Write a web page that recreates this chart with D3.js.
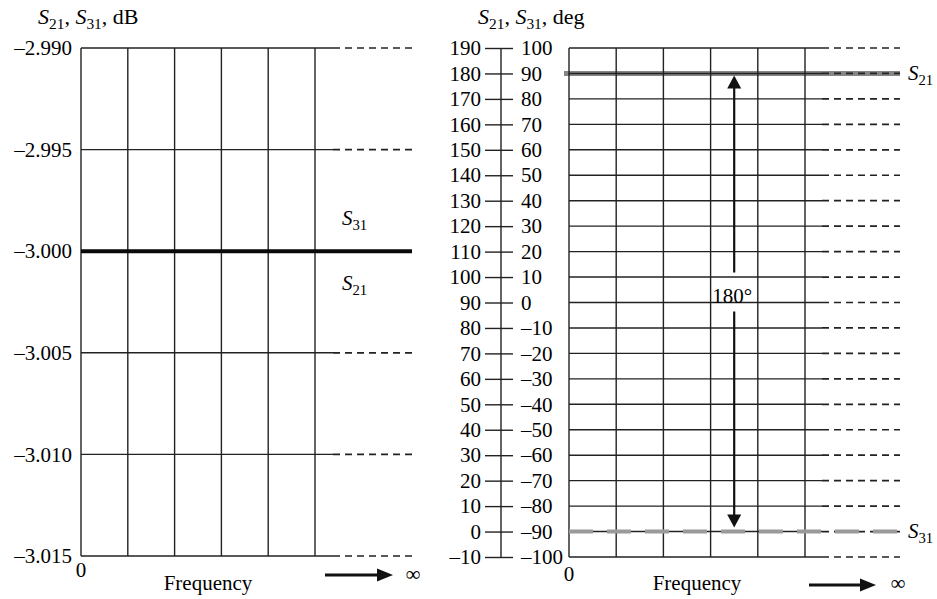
<!DOCTYPE html>
<html>
<head>
<meta charset="utf-8">
<script src="https://cdn.jsdelivr.net/npm/d3@7"></script>
<style>
  body { margin: 0; background: #fff; }
  svg text { font-family: "Liberation Serif", "Times New Roman", serif; fill: #000; }
</style>
</head>
<body>
<svg id="chart" width="937" height="599" font-family="Liberation Serif, serif"></svg>
<script>
// Magnitude panel (dB)
const dbTicks = [-2.990, -2.995, -3.000, -3.005, -3.010, -3.015];
const s21dB = -3.000;
const s31dB = -3.000;

// Frequency grid divisions (0 … towards infinity)
const freqDivisions = [0, 1, 2, 3, 4, 5];

// Phase panel (deg): inner scale and the offset outer scale
const phaseTicks = [100, 90, 80, 70, 60, 50, 40, 30, 20, 10, 0, -10, -20, -30, -40, -50, -60, -70, -80, -90, -100];
const phaseOffset = 90;
const s21Deg = 90;
const s31Deg = -90;
const phaseDiffLabel = "180°";

const svg = d3.select("#chart");
const dash = s => s.replace(/[-\u2212]/g, "\u2013");
const gridColor = "#222";
const gridWidth = 1.4;
const FS = 21;
const SERIF = "Liberation Serif, Times New Roman, serif";

function subLabel(g, x, y, parts, size) {
  // parts: [text, isSubscript, isItalic]
  const fs = size || FS;
  const t = g.append("text").attr("x", x).attr("y", y)
    .attr("font-size", fs).attr("font-family", SERIF);
  parts.forEach(([s, sub, it], i) => {
    const ts = t.append("tspan").text(s);
    if (it) ts.attr("font-style", "italic");
    if (sub) ts.attr("font-size", fs * 0.7).attr("dy", 5);
    else if (i > 0 && parts[i - 1][1]) ts.attr("dy", -5);
  });
  return t;
}

function sLabel(g, x, y, idx) {
  return subLabel(g, x, y, [["S", false, true], [idx, true, false]]);
}

function plainText(g, x, y, s, anchor) {
  return g.append("text").attr("x", x).attr("y", y)
    .attr("text-anchor", anchor || "middle")
    .attr("font-size", FS).attr("font-family", SERIF).text(s);
}

function freqArrow(g, x1, x2, y) {
  g.append("line").attr("x1", x1).attr("x2", x2 - 14).attr("y1", y).attr("y2", y)
    .attr("stroke", "#111").attr("stroke-width", 3);
  g.append("path")
    .attr("d", `M${x2},${y} L${x2 - 16},${y - 6.5} L${x2 - 16},${y + 6.5} Z`)
    .attr("fill", "#111");
}

function styleAxis(axG) {
  axG.attr("font-family", SERIF).attr("font-size", FS);
  axG.select(".domain").remove();
  axG.selectAll("text").attr("font-size", FS).attr("font-family", SERIF).attr("fill", "#000");
}

// ---------- Left panel: magnitude ----------
const xL = d3.scaleLinear().domain([0, 5]).range([81, 315]);
const yL = d3.scaleLinear().domain([-3.015, -2.990]).range([556, 48]);
const gL = svg.append("g");
const solidExt = 18, dashExt = 97;

gL.selectAll(".hgrid").data(dbTicks).join("line")
  .attr("x1", xL(0)).attr("x2", xL(5) + solidExt)
  .attr("y1", d => yL(d)).attr("y2", d => yL(d))
  .attr("stroke", gridColor).attr("stroke-width", gridWidth);
gL.selectAll(".hdash").data(dbTicks).join("line")
  .attr("x1", xL(5) + solidExt).attr("x2", xL(5) + dashExt)
  .attr("y1", d => yL(d)).attr("y2", d => yL(d))
  .attr("stroke", gridColor).attr("stroke-width", 1.7)
  .attr("stroke-dasharray", "7,5");
gL.selectAll(".vgrid").data(freqDivisions).join("line")
  .attr("x1", d => xL(d)).attr("x2", d => xL(d))
  .attr("y1", yL(-2.990)).attr("y2", yL(-3.015))
  .attr("stroke", gridColor).attr("stroke-width", gridWidth);

// S21 and S31 magnitudes coincide
gL.append("line")
  .attr("x1", xL(0)).attr("x2", xL(5) + dashExt)
  .attr("y1", yL(s21dB)).attr("y2", yL(s31dB))
  .attr("stroke", "#0a0a0a").attr("stroke-width", 4);

const axL = gL.append("g").attr("transform", `translate(${xL(0)},0)`)
  .call(d3.axisLeft(yL).tickValues(dbTicks).tickSize(0).tickPadding(9)
    .tickFormat(d => dash(d3.format(".3f")(d))));
styleAxis(axL);

sLabel(gL, 342, 225, "31");
sLabel(gL, 342, 290, "21");

subLabel(gL, 38, 24, [["S", false, true], ["21", true, false], [", ", false, false],
  ["S", false, true], ["31", true, false], [", dB", false, false]], 22);

plainText(gL, xL(0), 577, "0");
plainText(gL, 208, 590, "Frequency");
freqArrow(gL, 325, 393, 575);
plainText(gL, 413, 581, "∞");

// ---------- Right panel: phase ----------
const xR = d3.scaleLinear().domain([0, 5]).range([569, 805]);
const yR = d3.scaleLinear().domain([-100, 100]).range([557, 48]);
const gR = svg.append("g");

// S21 phase trace (under the grid)
gR.append("line")
  .attr("x1", xR(0) - 5).attr("x2", xR(5) + dashExt - 2)
  .attr("y1", yR(s21Deg)).attr("y2", yR(s21Deg))
  .attr("stroke", "#868686").attr("stroke-width", 5);

gR.selectAll(".hgrid").data(phaseTicks).join("line")
  .attr("x1", xR(0)).attr("x2", xR(5) + solidExt - 1)
  .attr("y1", d => yR(d)).attr("y2", d => yR(d))
  .attr("stroke", gridColor).attr("stroke-width", gridWidth);
gR.selectAll(".hdash").data(phaseTicks).join("line")
  .attr("x1", xR(5) + solidExt - 1).attr("x2", xR(5) + dashExt - 2)
  .attr("y1", d => yR(d)).attr("y2", d => yR(d))
  .attr("stroke", gridColor).attr("stroke-width", 1.7)
  .attr("stroke-dasharray", "7,5");
gR.selectAll(".vgrid").data(freqDivisions).join("line")
  .attr("x1", d => xR(d)).attr("x2", d => xR(d))
  .attr("y1", yR(100)).attr("y2", yR(-100))
  .attr("stroke", gridColor).attr("stroke-width", gridWidth);

// S31 phase trace (dashed, over the grid)
gR.append("line")
  .attr("x1", xR(0)).attr("x2", xR(5) + dashExt - 2)
  .attr("y1", yR(s31Deg)).attr("y2", yR(s31Deg))
  .attr("stroke", "#9a9a9a").attr("stroke-width", 4)
  .attr("stroke-dasharray", "24,14");

// Twin phase axis
const axisX = 501;
gR.append("line").attr("x1", axisX).attr("x2", axisX)
  .attr("y1", yR(100)).attr("y2", yR(-100))
  .attr("stroke", gridColor).attr("stroke-width", gridWidth);
const axOuter = gR.append("g").attr("transform", "translate(513,0)")
  .call(d3.axisLeft(yR).tickValues(phaseTicks).tickSize(28).tickPadding(4)
    .tickFormat(d => dash(String(d + phaseOffset))));
styleAxis(axOuter);
axOuter.selectAll("line").attr("stroke", gridColor).attr("stroke-width", gridWidth);
const axInner = gR.append("g").attr("transform", "translate(513,0)")
  .call(d3.axisRight(yR).tickValues(phaseTicks).tickSize(0).tickPadding(8)
    .tickFormat(d => dash(String(d))));
styleAxis(axInner);

// 180° phase-difference arrow
const ax = xR(3.5);
const yTop = yR(s21Deg) + 2, yBot = yR(s31Deg) - 4;
const yLab = yR(0);
gR.append("line").attr("x1", ax).attr("x2", ax).attr("y1", yTop + 12).attr("y2", yLab - 30)
  .attr("stroke", "#111").attr("stroke-width", 2.2);
gR.append("line").attr("x1", ax).attr("x2", ax).attr("y1", yLab + 9).attr("y2", yBot - 12)
  .attr("stroke", "#111").attr("stroke-width", 2.2);
gR.append("path").attr("d", `M${ax},${yTop} L${ax - 7},${yTop + 13} L${ax + 7},${yTop + 13} Z`).attr("fill", "#111");
gR.append("path").attr("d", `M${ax},${yBot} L${ax - 7},${yBot - 13} L${ax + 7},${yBot - 13} Z`).attr("fill", "#111");
plainText(gR, ax - 2, yLab, phaseDiffLabel);

sLabel(gR, 908, yR(s21Deg) + 7, "21");
sLabel(gR, 908, yR(s31Deg) + 6, "31");

subLabel(gR, 478, 24, [["S", false, true], ["21", true, false], [", ", false, false],
  ["S", false, true], ["31", true, false], [", deg", false, false]], 22);

plainText(gR, xR(0), 581, "0");
plainText(gR, 697, 590, "Frequency");
freqArrow(gR, 809, 876, 585);
plainText(gR, 898, 590, "∞");
</script>
</body>
</html>
